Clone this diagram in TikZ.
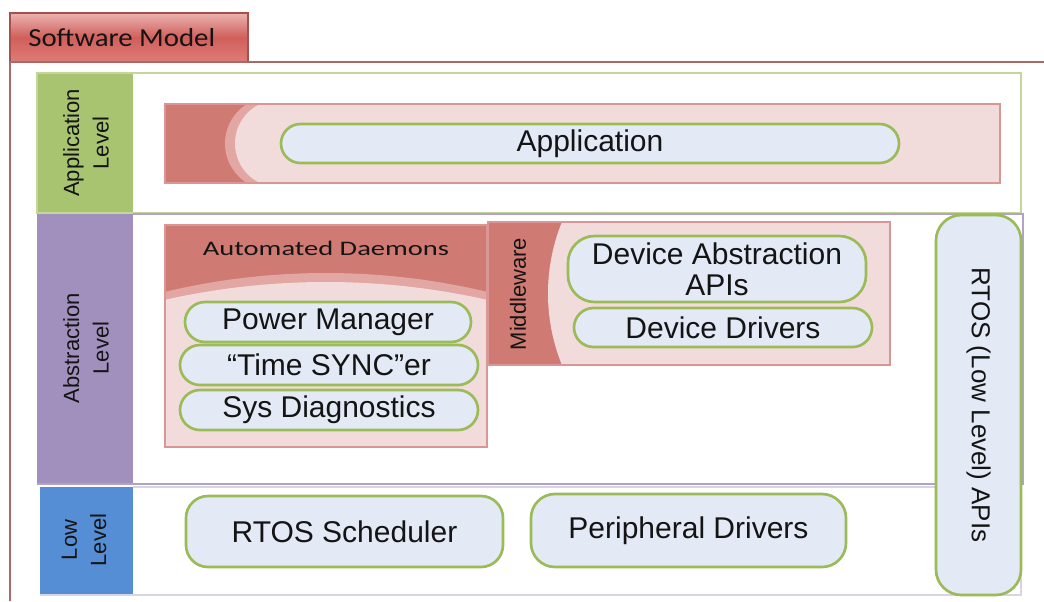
\documentclass[tikz,border=0pt]{standalone}
\usepackage{fontspec}
\usepackage{graphicx}
\setmainfont{Liberation Sans}
\newfontfamily\capfont{Carlito}

\definecolor{tabtop}{HTML}{EBB3B1}
\definecolor{tabmid}{HTML}{D05F5B}
\definecolor{tabbot}{HTML}{DE7C77}
\definecolor{tabedge}{HTML}{A4504D}
\definecolor{frameline}{HTML}{A86A68}
\definecolor{lvgreen}{HTML}{A9C470}
\definecolor{lvpurple}{HTML}{A190BD}
\definecolor{lvblue}{HTML}{558ED5}
\definecolor{frgreen}{HTML}{C4D79B}
\definecolor{frpurple}{HTML}{B3A2C7}
\definecolor{frlow}{HTML}{D9D3E6}
\definecolor{reddark}{HTML}{D07A74}
\definecolor{redband}{HTML}{E3A7A3}
\definecolor{redlight}{HTML}{F2DCDB}
\definecolor{redline}{HTML}{D99694}
\definecolor{pillfill}{HTML}{E3EAF5}
\definecolor{pillline}{HTML}{9BBB59}
\definecolor{ink}{HTML}{141414}

\tikzset{
  pill/.style={draw=pillline, line width=2pt, fill=pillfill, inner sep=0pt,
    text=ink, font=\fontsize{22.5}{26}\selectfont, align=center},
  lvtext/.style={rotate=90, text=ink, align=center, inner sep=0pt,
    font=\fontsize{16.5}{22}\selectfont},
  redbox/.style={draw=redline, line width=1.1pt},
}

\begin{document}
\begin{tikzpicture}[x=0.75pt,y=-0.75pt]
\useasboundingbox (0,0) rectangle (1044,601);

% software model tab and outer frame
\path[top color=tabtop, bottom color=tabbot, middle color=tabmid, draw=tabedge, line width=1pt]
  (10,13) rectangle (248,62);
\draw[frameline, line width=1.1pt] (10,601) -- (10,62) -- (1044,62);
\node[anchor=west, inner sep=0pt, text=ink, font=\capfont\fontsize{19.5}{22}\selectfont]
  (title) at (28,38) {\scalebox{1.11}[1]{Software Model}};

% level frames and side labels
\fill[lvgreen] (37,73) rectangle (133,213);
\draw[frgreen, line width=1.2pt] (37,73) rectangle (1021,213);
\fill[lvpurple] (37,214) rectangle (133,484);
\draw[frpurple, line width=1.2pt] (133,214) -- (1023,214) -- (1023,484) -- (37,484);
\fill[lvblue] (40,487) rectangle (133,595);
\draw[frlow, line width=1.2pt] (133,487) -- (1021,487) -- (1021,595) -- (40,595);

\node[lvtext] (applv) at (86,143) {Application\\Level};
\node[lvtext] (abslv) at (86,348) {Abstraction\\Level};
\node[lvtext] (lowlv) at (84,540) {Low\\Level};

% application container
\begin{scope}
  \clip (165,104) rectangle (1000,183);
  \fill[reddark] (165,104) rectangle (1000,183);
  \fill[redband] (271.5,143.5) circle[radius=46.5];
  \fill[redband] (271.5,104) rectangle (1000,183);
  \fill[redlight] (278.7,143.5) circle[radius=43.7];
  \fill[redlight] (278.7,104) rectangle (1000,183);
\end{scope}
\draw[redbox] (165,104) rectangle (1000,183);

% automated daemons container
\begin{scope}
  \clip (165,225) rectangle (487,447);
  \fill[reddark] (165,225) rectangle (487,447);
  \fill[redband] (326,964.6) circle[radius=691.6];
  \fill[redlight] (326,1011) circle[radius=729];
\end{scope}
\draw[redbox] (165,225) rectangle (487,447);
\node[inner sep=0pt, text=ink, font=\capfont\fontsize{15.5}{18}\selectfont]
  (daemons) at (326,248) {\scalebox{1.38}[1]{Automated Daemons}};

% middleware container
\begin{scope}
  \clip (488,222) rectangle (890,365);
  \fill[reddark] (488,222) rectangle (890,365);
  \fill[redband] (711,293.5) circle[radius=151];
  \fill[redband] (711,222) rectangle (890,365);
  \fill[redlight] (737.6,293.5) circle[radius=189.6];
  \fill[redlight] (737.6,222) rectangle (890,365);
\end{scope}
\draw[redbox] (488,222) rectangle (890,365);
\node[lvtext] (mid) at (518,294) {Middleware};

% component pills
\node[pill, minimum width=463.5pt, minimum height=29.25pt, rounded corners=14.6pt]
  (app) at (590,143.5) {Application};
\node[pill, minimum width=214.5pt, minimum height=30pt, rounded corners=15pt]
  (pwr) at (328,322) {Power Manager};
\node[pill, minimum width=223.5pt, minimum height=30pt, rounded corners=15pt]
  (sync) at (329,365) {“Time SYNC”er};
\node[pill, minimum width=223.5pt, minimum height=30pt, rounded corners=15pt]
  (diag) at (329,410) {Sys Diagnostics};
\node[pill, minimum width=223.5pt, minimum height=49.5pt, rounded corners=20pt,
  font=\fontsize{22.5}{23}\selectfont]
  (devapi) at (717,269) {Device Abstraction\\APIs};
\node[pill, minimum width=223.5pt, minimum height=29.25pt, rounded corners=14.6pt]
  (devdrv) at (723,327.5) {Device Drivers};
\node[pill, minimum width=237.75pt, minimum height=53.25pt, rounded corners=16.5pt]
  (sched) at (344.5,531.5) {RTOS Scheduler};
\node[pill, minimum width=236.25pt, minimum height=54.75pt, rounded corners=18pt]
  (periph) at (688.5,530.5) {Peripheral Drivers};
\node[pill, rotate=-90, minimum width=285pt, minimum height=63.75pt, rounded corners=19pt,
  font=\fontsize{19.5}{22}\selectfont]
  (rtosapi) at (978.5,405) {RTOS (Low Level) APIs};
\end{tikzpicture}
\end{document}
